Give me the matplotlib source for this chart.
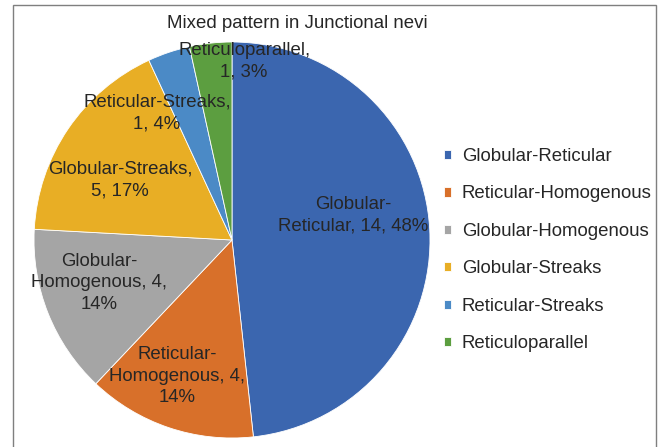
import matplotlib.pyplot as plt
from matplotlib.patches import Rectangle

plt.rcParams['font.family'] = ['Liberation Sans', 'DejaVu Sans']

patterns = ['Globular-Reticular', 'Reticular-Homogenous', 'Globular-Homogenous',
            'Globular-Streaks', 'Reticular-Streaks', 'Reticuloparallel']
counts = [14, 4, 4, 5, 1, 1]
label_text = ['Globular-\nReticular, 14, 48%', 'Reticular-\nHomogenous, 4,\n14%',
              'Globular-\nHomogenous, 4,\n14%', 'Globular-Streaks,\n5, 17%',
              'Reticular-Streaks,\n1, 4%', 'Reticuloparallel,\n1, 3%']
colors = ['#3B66AF', '#D8702A', '#A5A5A5', '#E8AE25', '#4B8AC6', '#5C9E40']

# label positions (x, y) in pie-radius units
label_pos = [(0.611, 0.126), (-0.278, -0.687), (-0.672, -0.217),
             (-0.566, 0.303), (-0.379, 0.641), (0.061, 0.901)]

FS = 13.4
W, H = 661, 447
fig = plt.figure(figsize=(W / 100, H / 100), dpi=100)
ax = fig.add_axes([34 / W, (H - 438) / H, 396 / W, 396 / H])

wedges, _ = ax.pie(counts, colors=colors, startangle=90, counterclock=False,
                   radius=1, wedgeprops=dict(edgecolor='white', linewidth=0.6))
ax.set_xlim(-1, 1)
ax.set_ylim(-1, 1)
ax.set_aspect('equal')

for txt, (x, y) in zip(label_text, label_pos):
    ax.text(x, y, txt, ha='center', va='center', fontsize=FS,
            color='#262626', linespacing=1.33)

fig.text(297 / W, 1 - 23 / H, 'Mixed pattern in Junctional nevi',
         ha='center', va='center', fontsize=FS, color='#262626')

fig.legend(wedges, patterns, loc='upper left',
           bbox_to_anchor=(444 / W, 1 - 148 / H), frameon=False,
           fontsize=FS, handlelength=0.4, handleheight=0.4,
           handletextpad=0.55, labelspacing=1.1, borderpad=0,
           borderaxespad=0, labelcolor='#262626')

fig.add_artist(Rectangle((13 / W, -0.01), (656 - 13) / W, 1 - 5 / H + 0.01,
                         transform=fig.transFigure, fill=False,
                         edgecolor='#7f7f7f', linewidth=1))

fig.savefig('out.png', dpi=100)
